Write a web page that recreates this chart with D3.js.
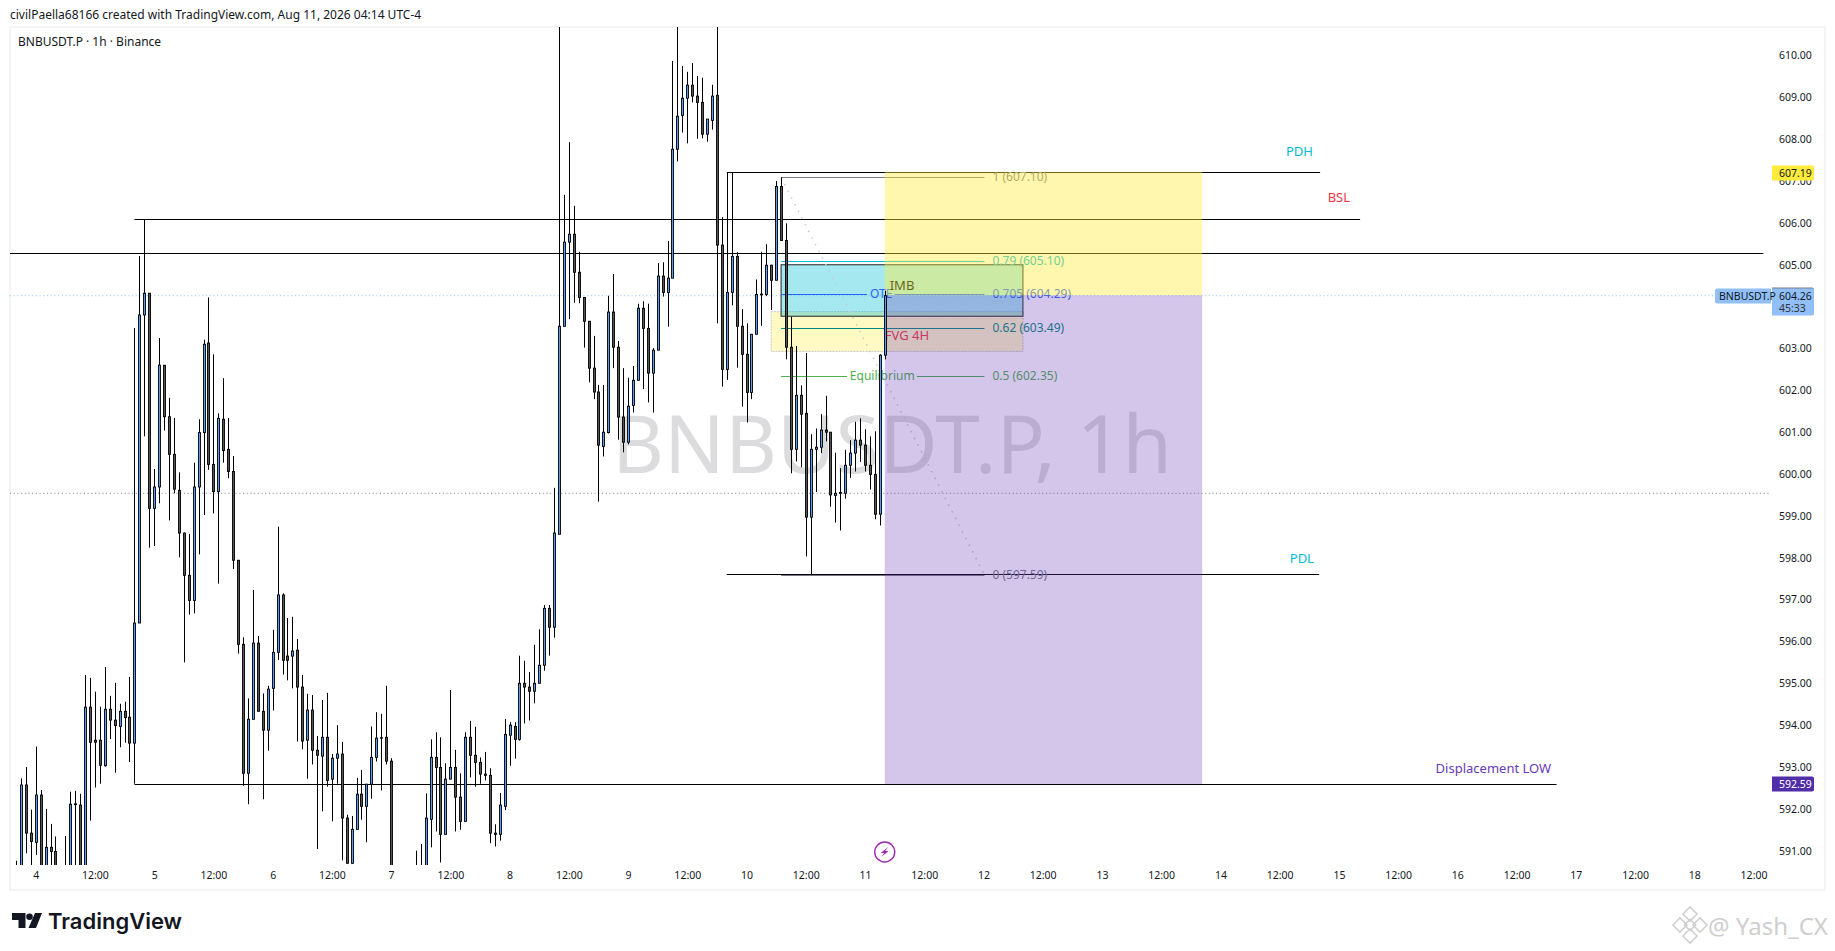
<!DOCTYPE html>
<meta charset="utf-8">
<title>BNBUSDT.P 1h</title>
<style>

body {
  margin: 0;
  background: #fff;
}

text {
  font-family: "Noto Sans", sans-serif;
}

.axis text {
  fill: #131722;
}

</style>
<body>
  <script src="https://d3js.org/d3.v7.min.js"></script>
  <script>

  const width = 1835;
  const height = 951;

  /* hourly candles, first one is Aug 3 20:00 (hour -4), last one Aug 11 04:00 (hour 172) */
  const firstHour = -4;
  const opens = [
    590.30,590.30,592.57,591.42,591.20,592.33,590.40,591.08,590.98,590.40,
    590.20,590.50,592.12,592.09,590.40,594.43,593.64,593.64,593.03,594.38,
    594.12,593.97,594.33,594.19,593.57,596.44,603.80,604.32,599.18,599.69,
    602.60,601.37,600.47,599.61,598.59,597.58,596.98,599.69,600.99,603.13,
    600.23,599.58,601.31,600.59,600.06,597.94,595.93,592.85,594.14,595.96,
    594.33,593.88,594.88,595.74,597.11,595.65,595.65,595.79,594.91,593.64,
    594.36,593.40,593.26,593.71,592.71,593.21,593.31,591.78,590.70,591.51,
    592.35,592.06,592.59,593.23,593.70,593.71,593.14,590.30,590.30,590.30,
    590.30,590.40,590.40,590.50,591.75,593.23,592.99,591.39,592.71,592.99,
    592.28,591.70,593.71,593.28,593.11,592.83,592.80,591.42,591.39,592.06,
    593.76,593.97,593.66,595.00,594.91,594.81,595.00,595.43,596.79,596.34,
    598.56,603.53,605.54,605.73,604.82,604.22,603.65,602.53,601.96,600.66,
    600.99,603.87,603.03,601.36,600.76,601.64,602.24,603.96,603.48,602.41,
    602.96,604.73,604.34,604.68,607.76,608.57,608.98,609.29,609.03,608.88,
    608.12,608.45,609.05,605.47,602.50,604.34,605.20,603.53,602.86,601.95,
    603.34,604.30,604.29,604.99,604.63,606.87,605.58,603.03,600.59,601.88,
    601.45,598.97,600.59,600.64,601.05,601.00,599.49,599.56,599.54,600.21,
    600.50,600.81,600.69,600.21,599.99,599.04,602.84
  ];
  const highs = [
    590.76,592.73,593.00,591.98,593.49,592.45,592.00,591.64,591.34,590.60,
    591.35,592.41,592.43,592.36,595.20,595.13,594.80,594.44,595.39,594.70,
    595.01,594.51,594.56,595.15,603.49,605.21,606.07,604.32,600.12,603.25,
    602.60,601.82,601.34,600.04,598.60,598.57,600.27,601.31,603.21,604.22,
    602.86,601.45,602.29,601.34,600.43,597.94,596.10,594.64,597.23,596.13,
    594.76,594.94,596.28,598.74,597.15,596.56,596.59,596.06,595.20,594.75,
    594.72,593.74,594.60,594.77,593.31,594.00,593.60,591.86,591.83,592.74,
    592.93,592.59,593.97,594.31,594.27,594.94,593.21,590.50,590.50,590.50,
    590.50,591.00,591.16,592.37,593.66,593.83,593.71,593.09,594.84,593.41,
    592.85,593.83,594.10,593.96,593.23,593.36,592.97,591.63,592.38,594.15,
    594.07,594.07,595.66,595.54,595.27,595.92,596.29,596.87,596.87,599.67,
    611.30,606.67,607.93,606.41,605.31,604.22,603.65,603.30,602.13,602.13,
    604.26,604.78,603.18,602.53,602.30,602.58,604.07,604.13,604.07,603.01,
    605.04,605.06,605.57,609.87,611.20,609.75,609.61,609.82,609.51,609.47,
    608.48,609.30,611.20,606.14,607.21,607.21,605.30,603.94,603.60,603.34,
    604.65,605.31,605.49,605.00,607.00,607.09,605.99,603.76,603.06,602.12,
    602.89,600.95,601.09,601.43,601.87,601.00,600.51,600.14,600.58,600.81,
    601.25,601.33,601.07,600.90,601.02,602.86,604.38
  ];
  const lows = [
    590.10,590.10,590.94,590.30,590.90,590.20,590.20,590.40,590.20,590.00,
    590.00,590.30,590.40,590.20,590.20,591.72,592.51,592.60,593.01,593.67,
    592.86,593.47,593.58,593.12,592.60,596.44,600.90,598.24,598.28,599.30,
    601.04,598.89,599.54,598.01,595.50,596.64,596.67,598.08,599.02,600.10,
    599.06,597.38,600.27,599.90,597.73,595.71,592.55,592.11,594.14,594.33,
    592.23,593.39,594.35,595.56,595.21,595.07,594.88,593.61,593.42,592.72,
    593.06,591.04,591.94,592.53,591.70,592.60,590.77,590.69,590.69,591.51,
    591.74,591.20,592.24,593.13,592.44,593.06,590.00,590.00,590.00,590.00,
    590.00,590.00,590.00,590.20,591.08,591.46,590.72,591.39,592.71,591.46,
    591.50,591.70,592.75,592.53,592.60,592.68,591.18,591.10,591.24,591.97,
    593.03,593.20,593.63,594.04,594.11,594.52,595.00,595.30,595.66,596.09,
    598.56,603.53,603.70,604.09,604.08,603.02,602.19,601.79,599.34,600.42,
    600.97,602.53,600.82,600.52,600.71,601.47,602.24,602.03,601.71,601.47,
    602.96,604.24,603.52,604.68,607.47,608.16,607.90,608.88,608.01,608.02,
    607.94,608.23,603.60,602.09,602.25,604.03,602.54,601.61,601.23,601.79,
    603.34,603.54,604.25,603.92,604.63,605.58,602.74,600.02,600.30,600.16,
    598.03,597.61,599.57,600.50,600.78,599.22,598.84,598.65,599.41,599.91,
    600.06,600.29,600.06,599.63,598.92,598.77,602.74
  ];
  const closes = [
    590.50,592.57,591.42,591.22,592.33,590.40,591.08,590.98,590.40,590.20,
    590.50,592.11,592.10,590.40,594.43,593.59,593.59,593.04,594.38,594.12,
    593.99,594.33,594.18,593.57,596.44,603.80,604.32,599.18,599.69,602.60,
    601.37,600.47,599.64,598.59,597.58,596.98,599.69,600.99,603.10,600.23,
    599.58,601.33,600.56,600.06,597.94,595.93,592.85,594.14,595.96,594.33,
    593.88,594.86,595.74,597.11,595.55,595.55,595.77,594.91,593.62,594.36,
    593.40,593.28,593.71,592.68,593.21,593.31,591.78,590.70,591.51,592.35,
    592.06,592.59,593.23,593.69,593.69,593.14,590.30,590.30,590.30,590.30,
    590.40,590.40,590.50,591.78,593.23,592.99,591.39,592.71,592.99,592.28,
    591.70,593.71,593.28,593.11,592.83,592.80,591.42,591.39,592.09,593.78,
    594.00,593.66,595.00,594.91,594.81,595.00,595.43,596.79,596.34,598.59,
    603.53,605.54,605.73,604.82,604.22,603.65,602.53,601.96,600.69,601.00,
    603.87,603.03,601.36,600.76,601.62,602.24,603.96,603.48,602.41,602.96,
    604.73,604.34,604.68,607.76,608.55,608.98,609.29,609.03,608.88,608.12,
    608.48,609.03,605.47,602.50,604.34,605.20,603.53,602.86,601.95,603.34,
    604.29,604.28,604.99,604.63,606.87,605.58,603.03,600.59,601.88,601.43,
    598.97,600.59,600.64,601.05,601.00,599.50,599.54,599.54,600.21,600.50,
    600.81,600.69,600.21,599.99,599.04,602.84,604.26
  ];

  const priceTicks = [591,592,593,594,595,596,597,598,599,600,601,602,603,605,606,607,608,609,610];
  const hourTicks = d3.range(0, 349, 12); /* every 12h from Aug 4 00:00 to Aug 18 12:00 */

  /* drawings, prices + start/end hour */
  const hLines = [
    {name: "PDH", price: 607.22, from: 140, to: 260.2},
    {name: "BSL", price: 606.09, from: 20, to: 268.3},
    {name: "mid", price: 605.27, from: -6, to: 350},
    {name: "PDL", price: 597.60, from: 140, to: 260},
    {name: "Displacement LOW", price: 592.59, from: 20, to: 308.1}
  ];
  const lineLabels = [
    {text: "PDH", hour: 256, price: 607.60, color: "#00bcd4"},
    {text: "BSL", hour: 264, price: 606.50, color: "#f23645"},
    {text: "PDL", hour: 256.5, price: 597.88, color: "#00bcd4"},
    {text: "Displacement LOW", hour: 295.3, price: 592.86, color: "#673ab7"}
  ];
  const fibLevels = [
    {label: "1 (607.10)", price: 607.09, color: "#787b86", gap: null},
    {label: "0.79 (605.10)", price: 605.10, color: "#00bcd4", gap: null},
    {label: "0.705 (604.29)", price: 604.29, color: "#2962ff", gap: [168.4, 174], mid: "OTE", midHour: 171.3},
    {label: "0.62 (603.49)", price: 603.49, color: "#00897b", gap: null},
    {label: "0.5 (602.35)", price: 602.34, color: "#4caf50", gap: [164.4, 178.5], mid: "Equilibrium", midHour: 171.5},
    {label: "0 (597.59)", price: 597.59, color: "#787b86", gap: null}
  ];
  const fibHours = [151, 192.2];
  const imbBox = {hours: [151, 200], top: 605.00, bottom: 603.77};
  const fvgBox = {hours: [149, 200], top: 603.88, bottom: 602.93};
  const positionHours = [172, 236.3];
  const positionLevels = [607.22, 604.27, 592.59];

  /* price tags on the right */
  const priceTags = [
    {text: "607.19", price: 607.19, fill: "#ffeb3b", color: "#131722"},
    {text: "604.27", price: 604.27, fill: "#787b86", color: "#fff"},
    {text: "592.59", price: 592.59, fill: "#512da8", color: "#fff"}
  ];
  const lastPrice = 604.26;
  const dottedPrice = 599.54;

  const plot = {left: 10, right: 1771, top: 27, bottom: 865};
  const x = d3.scaleLinear().domain([0, 168]).range([35.7, 865]);
  const y = d3.scaleLinear().domain([591, 610]).range([850.7, 55.5]);
  const barX = h => Math.round(x(h));

  const svg = d3.select("body").append("svg")
      .attr("width", width)
      .attr("height", height)
      .style("display", "block");

  svg.append("defs").append("clipPath").attr("id", "pane")
    .append("rect")
      .attr("x", plot.left)
      .attr("y", plot.top)
      .attr("width", plot.right - plot.left)
      .attr("height", plot.bottom - plot.top);

  /* header and frame */
  svg.append("text")
      .attr("x", 10).attr("y", 19)
      .attr("font-size", 12).attr("fill", "#131722")
      .text("civilPaella68166 created with TradingView.com, Aug 11, 2026 04:14 UTC-4");

  svg.append("rect")
      .attr("x", 10).attr("y", 27)
      .attr("width", 1815).attr("height", 863)
      .attr("fill", "none")
      .attr("stroke", "#f3f4f6").attr("stroke-width", 2);

  const pane = svg.append("g").attr("clip-path", "url(#pane)");

  pane.append("text")
      .attr("x", 892).attr("y", 473)
      .attr("text-anchor", "middle")
      .attr("font-size", 80)
      .attr("fill", "#dcdcde")
      .text("BNBUSDT.P, 1h");

  /* dotted price lines */
  pane.append("line")
      .attr("x1", plot.left).attr("x2", 1715)
      .attr("y1", y(lastPrice)).attr("y2", y(lastPrice))
      .attr("stroke", "#90bff9").attr("stroke-dasharray", "1 2.7");
  pane.append("line")
      .attr("x1", plot.left).attr("x2", plot.right)
      .attr("y1", y(dottedPrice)).attr("y2", y(dottedPrice))
      .attr("stroke", "#787b86").attr("stroke-dasharray", "1 2.7");

  /* FVG and IMB boxes */
  pane.append("rect")
      .attr("x", x(fvgBox.hours[0])).attr("y", y(fvgBox.top))
      .attr("width", x(fvgBox.hours[1]) - x(fvgBox.hours[0]))
      .attr("height", y(fvgBox.bottom) - y(fvgBox.top))
      .attr("fill", "#ffeb3b").attr("fill-opacity", .3)
      .attr("stroke", "#c8c8c8").attr("stroke-dasharray", "2 1");
  pane.append("rect")
      .attr("x", x(imbBox.hours[0])).attr("y", y(imbBox.top))
      .attr("width", x(imbBox.hours[1]) - x(imbBox.hours[0]))
      .attr("height", y(imbBox.bottom) - y(imbBox.top))
      .attr("fill", "#00bcd4").attr("fill-opacity", .35)
      .attr("stroke", "#222");

  /* horizontal rays */
  pane.selectAll(".hline")
    .data(hLines)
    .enter().append("line")
      .attr("class", "hline")
      .attr("x1", d => x(d.from)).attr("x2", d => x(d.to))
      .attr("y1", d => Math.round(y(d.price)) + .5).attr("y2", d => Math.round(y(d.price)) + .5)
      .attr("stroke", "#000");

  pane.selectAll(".linelabel")
    .data(lineLabels)
    .enter().append("text")
      .attr("class", "linelabel")
      .attr("x", d => x(d.hour)).attr("y", d => y(d.price))
      .attr("text-anchor", "middle")
      .attr("font-size", 13)
      .attr("fill", d => d.color)
      .text(d => d.text);

  /* fib */
  pane.append("line")
      .attr("x1", x(fibHours[0])).attr("x2", x(fibHours[1]))
      .attr("y1", y(fibLevels[0].price)).attr("y2", y(fibLevels[5].price))
      .attr("stroke", "#c9cad0").attr("stroke-width", 1.5)
      .attr("stroke-dasharray", "1.5 6");

  const fib = pane.selectAll(".fib")
    .data(fibLevels)
    .enter().append("g").attr("class", "fib");

  fib.append("line")
      .attr("x1", x(fibHours[0]))
      .attr("x2", d => d.gap ? x(d.gap[0]) : x(fibHours[1]))
      .attr("y1", d => Math.round(y(d.price)) + .5).attr("y2", d => Math.round(y(d.price)) + .5)
      .attr("stroke", d => d.color);
  fib.filter(d => d.gap).append("line")
      .attr("x1", d => x(d.gap[1]))
      .attr("x2", x(fibHours[1]))
      .attr("y1", d => Math.round(y(d.price)) + .5).attr("y2", d => Math.round(y(d.price)) + .5)
      .attr("stroke", d => d.color);
  fib.append("text")
      .attr("x", x(fibHours[1]) + 8)
      .attr("y", d => y(d.price) + 4)
      .attr("font-size", 12)
      .attr("fill", d => d.color)
      .text(d => d.label);
  fib.filter(d => d.mid).append("text")
      .attr("x", d => x(d.midHour))
      .attr("y", d => y(d.price) + 4)
      .attr("text-anchor", "middle")
      .attr("font-size", 12)
      .attr("fill", d => d.color)
      .text(d => d.mid);

  pane.append("text")
      .attr("x", x(175.5)).attr("y", y(604.39))
      .attr("text-anchor", "middle")
      .attr("font-size", 13).attr("fill", "#000")
      .text("IMB");
  pane.append("text")
      .attr("x", x(176.5)).attr("y", y(603.20))
      .attr("text-anchor", "middle")
      .attr("font-size", 13).attr("fill", "#f23645")
      .text("FVG 4H");

  /* long position box sits on top of the drawings */
  pane.append("rect")
      .attr("x", x(positionHours[0])).attr("y", y(positionLevels[0]))
      .attr("width", x(positionHours[1]) - x(positionHours[0]))
      .attr("height", y(positionLevels[1]) - y(positionLevels[0]))
      .attr("fill", "#ffeb3b").attr("fill-opacity", .42);
  pane.append("rect")
      .attr("x", x(positionHours[0])).attr("y", y(positionLevels[1]))
      .attr("width", x(positionHours[1]) - x(positionHours[0]))
      .attr("height", y(positionLevels[2]) - y(positionLevels[1]))
      .attr("fill", "#673ab7").attr("fill-opacity", .29);

  /* candles */
  const candle = pane.selectAll(".candle")
    .data(d3.range(opens.length))
    .enter().append("g").attr("class", "candle")
      .attr("transform", i => "translate(" + barX(i + firstHour) + ",0)");

  candle.append("line")
      .attr("y1", i => y(highs[i]))
      .attr("y2", i => y(lows[i]))
      .attr("x1", .5).attr("x2", .5)
      .attr("stroke", "#000");

  candle.append("rect")
      .attr("x", -.5)
      .attr("width", 2)
      .attr("y", i => y(Math.max(opens[i], closes[i])))
      .attr("height", i => Math.max(.5, Math.abs(y(opens[i]) - y(closes[i]))))
      .attr("fill", i => closes[i] >= opens[i] ? "#5b9cf6" : "#555")
      .attr("stroke", "#000").attr("stroke-width", .9);

  /* lightning marker */
  const bolt = svg.append("g")
      .attr("transform", "translate(" + x(172) + ",852)");
  bolt.append("circle")
      .attr("r", 10)
      .attr("fill", "#fff")
      .attr("stroke", "#9c27b0").attr("stroke-width", 1.4);
  bolt.append("path")
      .attr("d", "M3.5,-5 L-4,1 L-0.5,1 L-3.5,5 L4,-1 L0.5,-1 Z")
      .attr("fill", "#9c27b0");

  /* axes */
  const priceAxis = svg.append("g")
      .attr("class", "axis")
      .attr("transform", "translate(1779,0)")
      .call(d3.axisRight(y).tickValues(priceTicks).tickFormat(d3.format(".2f")).tickSize(0).tickPadding(0));
  priceAxis.select(".domain").remove();
  priceAxis.selectAll("text").attr("font-size", 10.5).style("font-family", '"Noto Sans", sans-serif');

  const timeAxis = svg.append("g")
      .attr("class", "axis")
      .attr("transform", "translate(0,872)")
      .call(d3.axisBottom(x).tickValues(hourTicks)
        .tickFormat(h => h % 24 ? "12:00" : String(4 + h / 24)).tickSize(0).tickPadding(0));
  timeAxis.select(".domain").remove();
  timeAxis.selectAll("text").attr("font-size", 10.5).style("font-family", '"Noto Sans", sans-serif');

  /* price tags */
  const tag = svg.selectAll(".tag")
    .data(priceTags)
    .enter().append("g").attr("class", "tag")
      .attr("transform", d => "translate(1772," + Math.round(y(d.price)) + ")");
  tag.append("path")
      .attr("d", "M0,-7.5 H40 Q42,-7.5 42,-5.5 V5.5 Q42,7.5 40,7.5 H0 Z")
      .attr("fill", d => d.fill);
  tag.append("text")
      .attr("x", 7).attr("y", 3.8)
      .attr("font-size", 10.5)
      .attr("fill", d => d.color)
      .text(d => d.text);

  const last = svg.append("g").attr("transform", "translate(1772," + (Math.round(y(lastPrice)) - 7.5) + ")");
  last.append("path")
      .attr("d", "M0,0 H42 V25 Q42,27 40,27 H0 Z")
      .attr("fill", "#90bff9");
  last.append("text").attr("x", 7).attr("y", 11.3).attr("font-size", 10.5).attr("fill", "#131722").text(lastPrice.toFixed(2));
  last.append("text").attr("x", 7).attr("y", 23).attr("font-size", 10.5).attr("fill", "#333").text("45:33");

  const sym = svg.append("g").attr("transform", "translate(1715," + (Math.round(y(lastPrice)) - 7.5) + ")");
  sym.append("path")
      .attr("d", "M2,0 H56 V15 H2 Q0,15 0,13 V2 Q0,0 2,0 Z")
      .attr("fill", "#90bff9");
  sym.append("text").attr("x", 4).attr("y", 11.3).attr("font-size", 10.5).attr("fill", "#131722").text("BNBUSDT.P");

  /* legend */
  svg.append("text")
      .attr("x", 18).attr("y", 46)
      .attr("font-size", 12).attr("fill", "#131722")
      .text("BNBUSDT.P · 1h · Binance");

  /* TradingView logo */
  const logo = svg.append("g").attr("fill", "#131722");
  logo.append("path").attr("d", "M12,913 H25.5 V928 H18.5 V920 H12 Z");
  logo.append("circle").attr("cx", 29.5).attr("cy", 916.7).attr("r", 3.3);
  logo.append("path").attr("d", "M35,913 H42 L36,928 H28.5 Z");
  logo.append("text")
      .attr("x", 48).attr("y", 929)
      .attr("font-size", 22).attr("font-weight", 600)
      .style("font-family", "Inter, sans-serif")
      .text("TradingView");

  /* repost stamp, bottom right */
  const stamp = svg.append("g").attr("fill", "none").attr("stroke", "#cfcfcf").attr("stroke-width", 1.5);
  [[1690, 914, 5], [1680, 925, 5], [1700, 925, 5], [1690, 936, 5], [1690, 925, 4]].forEach(d => {
    stamp.append("rect")
        .attr("x", d[0] - d[2]).attr("y", d[1] - d[2])
        .attr("width", d[2] * 2).attr("height", d[2] * 2)
        .attr("transform", "rotate(45," + d[0] + "," + d[1] + ")");
  });
  svg.append("text")
      .attr("x", 1708).attr("y", 935)
      .attr("font-size", 24).attr("fill", "#cfcfcf")
      .text("@ Yash_CX");

  </script>
</body>
